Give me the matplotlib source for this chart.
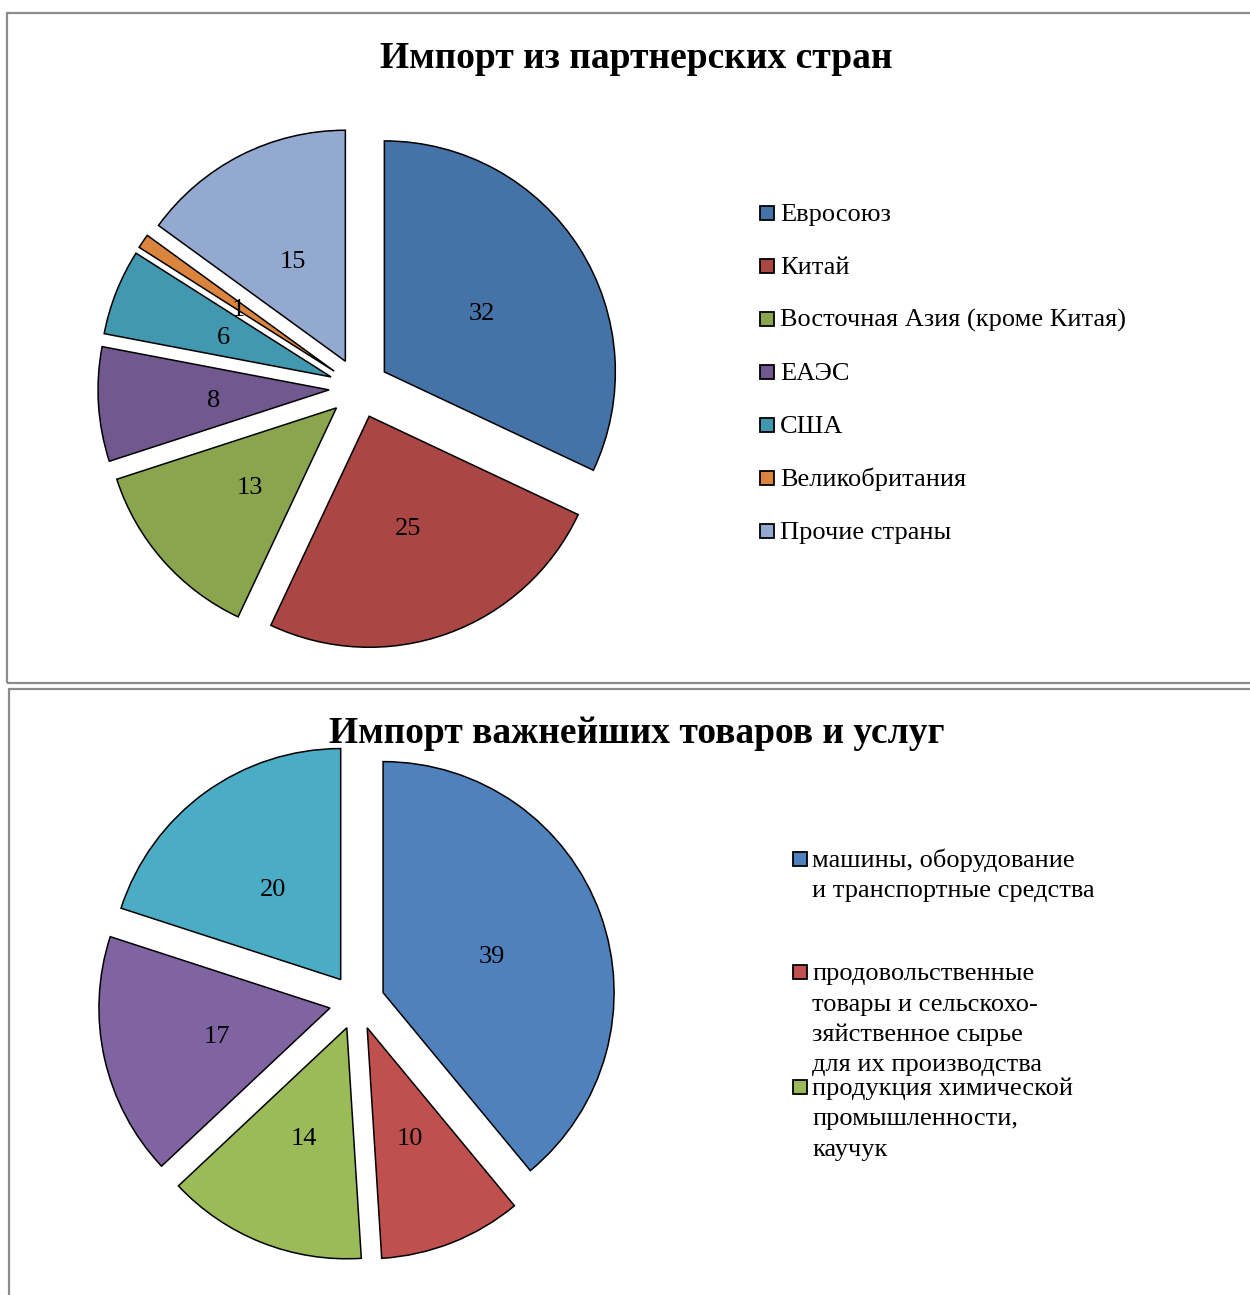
import matplotlib.pyplot as plt
from matplotlib.patches import Rectangle

W, H = 1250, 1295

# data: import from partner countries
partners = ['Евросоюз', 'Китай', 'Восточная Азия (кроме Китая)', 'ЕАЭС',
            'США', 'Великобритания', 'Прочие страны']
partner_values = [32, 25, 13, 8, 6, 1, 15]
partner_colors = ['#4572A7', '#AA4643', '#89A54E', '#71588F',
                  '#4198AF', '#DB843D', '#93A9CF']

# data: import of key goods and services (legend in source is cut after 3 items)
goods = ['машины, оборудование\nи транспортные средства',
         'продовольственные\nтовары и сельскохо-\nзяйственное сырье\nдля их производства',
         'продукция химической\nпромышленности,\nкаучук']
goods_values = [39, 10, 14, 17, 20]
goods_colors = ['#4F81BD', '#C0504D', '#9BBB59', '#8064A2', '#4BACC6']

plt.rcParams['font.family'] = ['Liberation Serif', 'DejaVu Serif']

fig = plt.figure(figsize=(W / 100, H / 100), dpi=100)


def fx(x):
    return x / W


def fy(y):
    # pixel y from top -> figure fraction
    return 1 - y / H


def frame(x0, y0, x1, y1):
    fig.add_artist(Rectangle((fx(x0), fy(y1)), fx(x1 - x0), (y1 - y0) / H,
                             transform=fig.transFigure, fill=False,
                             edgecolor='#8c8c8c', linewidth=1.6))


def draw_pie(cx, cy, r, values, colors, explode):
    s = r * 1.35
    ax = fig.add_axes([fx(cx - s), fy(cy + s), 2 * s / W, 2 * s / H])
    _, _, autotexts = ax.pie(values, colors=colors, startangle=90, counterclock=False,
                             explode=[explode] * len(values),
                             autopct=lambda p: f'{p:.0f}', pctdistance=0.5,
                             wedgeprops=dict(edgecolor='black', linewidth=1.1),
                             textprops=dict(fontsize=19, color='black'))
    # nudge value labels down a few pixels
    for t in autotexts:
        x, y = t.get_position()
        t.set_position((x, y - 4.0 / r))
    ax.set_xlim(-1.35, 1.35)
    ax.set_ylim(-1.35, 1.35)
    ax.axis('off')
    return ax


def legend_item(x, y, color, label, text_dx, line_h=30.5, box=14):
    fig.add_artist(Rectangle((fx(x), fy(y + box / 2)), fx(box), box / H,
                             transform=fig.transFigure, facecolor=color,
                             edgecolor='black', linewidth=1.3))
    for i, line in enumerate(label.split('\n')):
        fig.text(fx(x + text_dx), fy(y + 8 + i * line_h), line,
                 fontsize=19, va='baseline', ha='left')


# top panel
frame(7, 13, 1262, 683)
fig.text(fx(636), fy(68), 'Импорт из партнерских стран', fontsize=27,
         fontweight='bold', ha='center', va='baseline')
draw_pie(359, 388, 231, partner_values, partner_colors, 0.13)
for i, (name, col) in enumerate(zip(partners, partner_colors)):
    legend_item(760, 212.5 + i * 53.1, col, name, 20)

# bottom panel
frame(9, 689, 1262, 1305)
fig.text(fx(637), fy(743), 'Импорт важнейших товаров и услуг', fontsize=27,
         fontweight='bold', ha='center', va='baseline')
draw_pie(357, 1002, 231, goods_values, goods_colors, 0.12)
for y, name, col in zip([858.5, 972, 1087], goods, goods_colors):
    legend_item(793, y, col, name, 19)

fig.savefig('out.png', dpi=100)
